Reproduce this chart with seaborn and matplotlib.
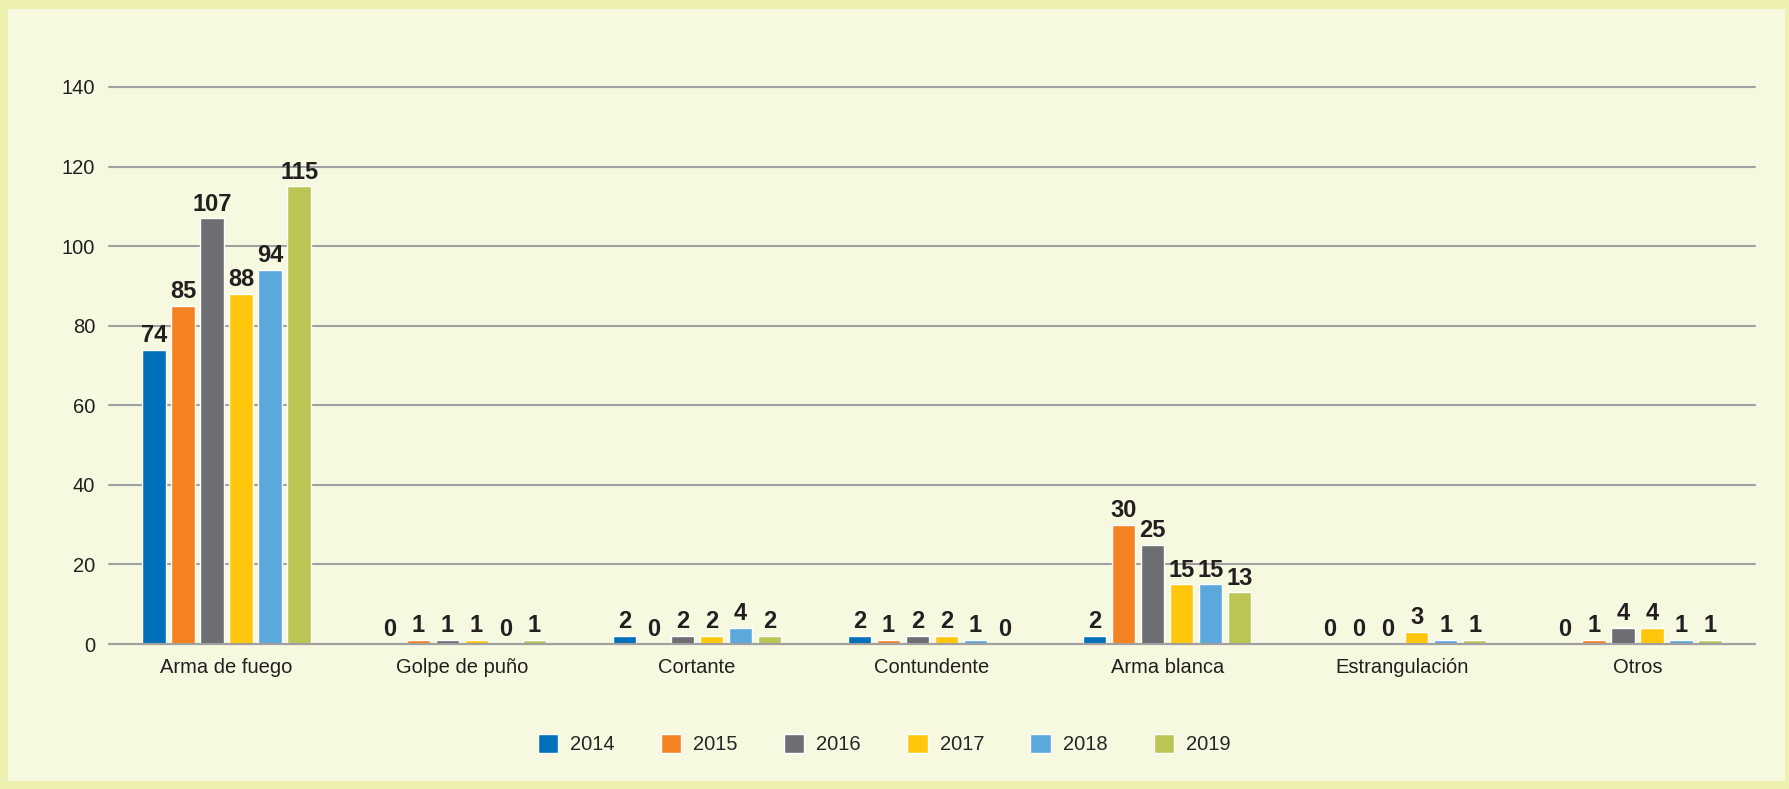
import seaborn as sns
import matplotlib.pyplot as plt
import pandas as pd
from matplotlib.patches import Rectangle

# data
categories = ["Arma de fuego", "Golpe de puño", "Cortante", "Contundente",
              "Arma blanca", "Estrangulación", "Otros"]
years = ["2014", "2015", "2016", "2017", "2018", "2019"]
v2014 = [74, 0, 2, 2, 2, 0, 0]
v2015 = [85, 1, 0, 1, 30, 0, 1]
v2016 = [107, 1, 2, 2, 25, 0, 4]
v2017 = [88, 1, 2, 2, 15, 3, 4]
v2018 = [94, 0, 4, 1, 15, 1, 1]
v2019 = [115, 1, 2, 0, 13, 1, 1]
colors = ["#0070BA", "#F58220", "#6D6E71", "#FFC60B", "#5BA8DC", "#BBC655"]

rows = []
for year, vals in zip(years, [v2014, v2015, v2016, v2017, v2018, v2019]):
    for cat, v in zip(categories, vals):
        rows.append({"cat": cat, "year": year, "val": v})
df = pd.DataFrame(rows)

sns.set_style("white")
plt.rcParams['font.family'] = ['Liberation Sans', 'DejaVu Sans']

fig = plt.figure(figsize=(17.9, 7.89), dpi=100)
fig.patch.set_facecolor("#EEF0B0")
fig.add_artist(Rectangle((8 / 1790, 8 / 789), 1777 / 1790, 772 / 789,
                         transform=fig.transFigure, facecolor="#F6F8E0",
                         edgecolor="none", zorder=-10))

ax = fig.add_axes([109 / 1790, 145 / 789, 1646 / 1790, 557 / 789])
ax.set_facecolor("none")

sns.barplot(data=df, x="cat", y="val", hue="year", palette=colors,
            width=0.74, gap=0.2, saturation=1, ax=ax, legend=True)

for c in ax.containers:
    ax.bar_label(c, padding=2, fontsize=17, fontweight="bold", color="#231F20")

ax.set_ylim(0, 140)
ax.set_yticks(range(0, 141, 20))
ax.yaxis.grid(True, color="#A0A0A0", linewidth=1.5)
for gl in ax.get_ygridlines():
    gl.set_clip_on(False)
ax.set_axisbelow(True)
for s in ["top", "right", "left"]:
    ax.spines[s].set_visible(False)
ax.spines["bottom"].set_color("#A0A0A0")
ax.spines["bottom"].set_linewidth(1.5)
ax.tick_params(axis="both", length=0, labelsize=14.5, colors="#231F20")
ax.tick_params(axis="y", pad=10)
ax.tick_params(axis="x", pad=10)
ax.set_xlabel("")
ax.set_ylabel("")

ax.legend(loc="center", bbox_to_anchor=(0.494, 0.057), bbox_transform=fig.transFigure,
          ncol=6, frameon=False, fontsize=14.5, handlelength=1.0, handleheight=1.1,
          columnspacing=2.3, handletextpad=0.6)

fig.savefig("out.png", dpi=100, facecolor=fig.get_facecolor())
